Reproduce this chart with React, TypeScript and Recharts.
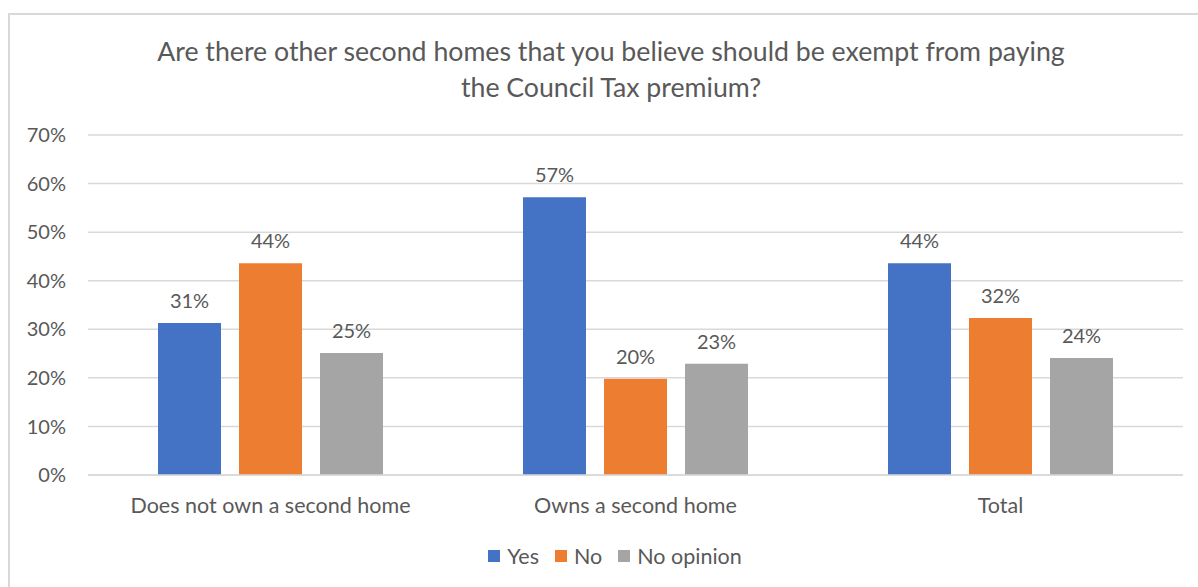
import { Bar, BarChart, CartesianGrid, LabelList, XAxis, YAxis } from "recharts";

const categories = ["Does not own a second home", "Owns a second home", "Total"];
const yes = [31.3, 57.2, 43.6];
const no = [43.6, 19.8, 32.3];
const noOpinion = [25.1, 22.9, 24.1];
const yTicks = [0, 10, 20, 30, 40, 50, 60, 70];

const series = [
  { key: "yes", name: "Yes", color: "#4472C4" },
  { key: "no", name: "No", color: "#ED7D31" },
  { key: "noOpinion", name: "No opinion", color: "#A5A5A5" },
];

const data = categories.map((category, i) => ({
  category,
  yes: yes[i],
  no: no[i],
  noOpinion: noOpinion[i],
}));

const FONT = "Lato, 'Noto Sans', sans-serif";
const TEXT = "#595959";

export default function App() {
  return (
    <div
      style={{
        position: "fixed",
        left: 0,
        top: 0,
        width: 1198,
        height: 587,
        overflow: "hidden",
        background: "#fff",
        fontFamily: FONT,
      }}
    >
      <div
        style={{
          position: "absolute",
          left: 8,
          top: 13,
          width: 1300,
          height: 700,
          border: "2px solid #d9d9d9",
        }}
      />
      <div
        style={{
          position: "absolute",
          left: 111,
          width: 1000,
          top: 33,
          textAlign: "center",
          fontSize: 26.7,
          lineHeight: "36px",
          color: TEXT,
        }}
      >
        Are there other second homes that you believe should be exempt from paying
        <br />
        the Council Tax premium?
      </div>
      <div style={{ position: "absolute", left: 0, top: 0 }}>
        <BarChart
          width={1198}
          height={587}
          data={data}
          margin={{ top: 135, right: 15, bottom: 72, left: 8 }}
          barGap={18}
          barSize={63}
        >
          <CartesianGrid vertical={false} stroke="#d9d9d9" strokeWidth={1.5} />
          <XAxis
            dataKey="category"
            height={40}
            tickLine={false}
            axisLine={{ stroke: "#d9d9d9", strokeWidth: 1.5 }}
            tickMargin={17}
            tick={{ fill: TEXT, fontSize: 21.5, fontFamily: FONT }}
          />
          <YAxis
            width={80}
            domain={[0, 70]}
            ticks={yTicks}
            tickFormatter={(v) => `${v}%`}
            axisLine={false}
            tickLine={false}
            tickMargin={16}
            tick={{ fill: TEXT, fontSize: 20, fontFamily: FONT }}
          />
          {series.map((s) => (
            <Bar key={s.key} dataKey={s.key} name={s.name} fill={s.color} isAnimationActive={false}>
              <LabelList
                dataKey={s.key}
                position="top"
                offset={15}
                formatter={(v: any) => `${Math.round(Number(v))}%`}
                style={{ fill: TEXT, fontSize: 20, fontFamily: FONT }}
              />
            </Bar>
          ))}
        </BarChart>
      </div>
      <div
        style={{
          position: "absolute",
          left: 16,
          width: 1198,
          top: 543,
          display: "flex",
          justifyContent: "center",
          fontSize: 21.5,
          color: TEXT,
          lineHeight: "26px",
        }}
      >
        {series.map((s) => (
          <div key={s.key} style={{ display: "flex", alignItems: "center", margin: "0 8px" }}>
            <span style={{ width: 12, height: 12, background: s.color, marginRight: 7, display: "inline-block" }} />
            <span>{s.name}</span>
          </div>
        ))}
      </div>
    </div>
  );
}
